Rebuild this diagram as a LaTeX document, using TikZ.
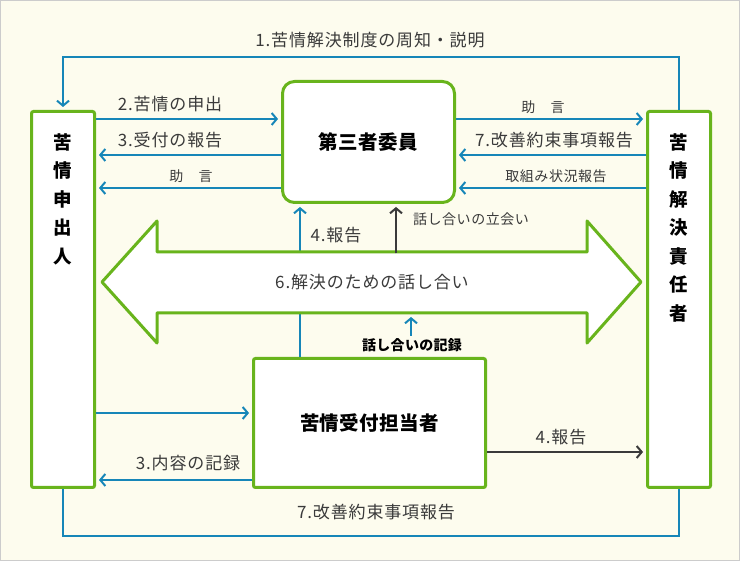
\documentclass[tikz,border=0pt]{standalone}
\usepackage{fontspec}
\setmainfont{Noto Sans CJK JP}
\usepackage{tikz}
\usepackage{xcolor}
\usetikzlibrary{arrows.meta}
\definecolor{bgcream}{RGB}{253,252,238}
\definecolor{boxgreen}{RGB}{104,180,28}
\definecolor{linkblue}{RGB}{22,134,184}
\definecolor{textgray}{RGB}{58,58,58}
\tikzset{
	box/.style={draw=boxgreen, line width=3pt, fill=white, rounded corners=2pt, inner sep=0pt},
	bluearrow/.style={draw=linkblue, line width=2pt, shorten >=3pt, -{Straight Barb[length=5pt, width=12pt]}},
	grayarrow/.style={draw=textgray, line width=2pt, shorten >=3pt, -{Straight Barb[length=5pt, width=12pt]}},
	lbl/.style={text=textgray, inner sep=0pt, font=\fontsize{17}{18}\selectfont\addfontfeature{LetterSpace=5}},
	smalllbl/.style={text=textgray, inner sep=0pt, font=\fontsize{14}{16}\selectfont\addfontfeature{LetterSpace=4}},
	boxtext/.style={inner sep=0pt, font=\bfseries\fontsize{19.5}{20}\selectfont\addfontfeature{LetterSpace=2}},
	columntext/.style={inner sep=0pt, align=center, anchor=north, font=\bfseries\fontsize{18.5}{28.5}\selectfont}
}

\begin{document}
\begin{tikzpicture}[x=1pt, y=-1pt]
	\useasboundingbox (0,0) rectangle (740,561);
	\fill[bgcream, draw=black!20, line width=1pt] (0.5,0.5) rectangle (739.5,560.5);
	% Boxes:
	\node[box, minimum width=63pt, minimum height=376pt](N1) at (63,299.5){};
	\node[columntext] at ([yshift=-23pt]N1.north){苦\\情\\申\\出\\人};
	\node[box, minimum width=63pt, minimum height=376pt](N4) at (679,299.5){};
	\node[columntext] at ([yshift=-23pt]N4.north){苦\\情\\解\\決\\責\\任\\者};
	\node[box, rounded corners=12pt, minimum width=172pt, minimum height=121pt](N2) at (368.5,142){};
	\node[boxtext] at (N2.center){第三者委員};
	\node[box, minimum width=232pt, minimum height=129pt](N3) at (369.5,423){};
	\node[boxtext] at (N3.center){苦情受付担当者};
	% Wires:
	\draw[bluearrow] (N4.north) -- ++(0,-53) -| (N1.north);
	\node[lbl] at (370,40){1.苦情解決制度の周知・説明};
	\draw[bluearrow] (N1.east |- 0,119) -- (N2.west |- 0,119);
	\node[lbl] at (170,104){2.苦情の申出};
	\draw[bluearrow] (N2.west |- 0,155) -- (N1.east |- 0,155);
	\node[lbl] at (170,140){3.受付の報告};
	\draw[bluearrow] (N2.west |- 0,188) -- (N1.east |- 0,188);
	\node[smalllbl] at (191,176){助　言};
	\draw[bluearrow] (N2.east |- 0,119) -- (N4.west |- 0,119);
	\node[smalllbl] at (543,107){助　言};
	\draw[bluearrow] (N4.west |- 0,155) -- (N2.east |- 0,155);
	\node[lbl] at (554,140){7.改善約束事項報告};
	\draw[bluearrow] (N4.west |- 0,188) -- (N2.east |- 0,188);
	\node[smalllbl] at (556,176){取組み状況報告};
	\draw[bluearrow] (N3.north -| 300,0) -- (N2.south -| 300,0);
	\node[lbl] at (336,235){4.報告};
	% Double arrow:
	\draw[boxgreen, fill=white, line width=3pt, line join=round] (102,282) -- (157,221) -- (157,252) -- (587,252) -- (587,221) -- (641,282) -- (587,343) -- (587,313) -- (157,313) -- (157,343) -- cycle;
	\node[lbl](N5) at (372,282){6.解決のための話し合い};
	\coordinate (C1) at (396,253.5);
	\draw[grayarrow] (C1) -- (N2.south -| C1);
	\node[smalllbl] at (471,219){話し合いの立会い};
	\coordinate (C2) at (411,336);
	\coordinate (C3) at (411,317);
	\draw[bluearrow, shorten >=0pt] (C2) -- (C3);
	\node[smalllbl, text=black, font=\bfseries\fontsize{14}{16}\selectfont\addfontfeature{LetterSpace=2}] at (412,345){話し合いの記録};
	\draw[bluearrow] (N1.east |- 0,413) -- (N3.west |- 0,413);
	\draw[bluearrow] (N3.west |- 0,480) -- (N1.east |- 0,480);
	\node[lbl] at (188,463){3.内容の記録};
	\draw[grayarrow] (N3.east |- 0,452) -- (N4.west |- 0,452);
	\node[lbl] at (561,437){4.報告};
	\draw[linkblue, line width=2pt] (N1.south) -- ++(0,47) -| (N4.south);
	\node[lbl] at (376,512){7.改善約束事項報告};
\end{tikzpicture}
\end{document}
